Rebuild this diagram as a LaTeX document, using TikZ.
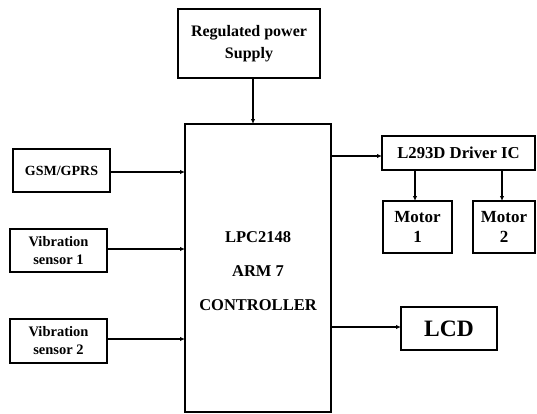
\documentclass[tikz,border=0pt]{standalone}
\usepackage{fontspec}
\setmainfont{Liberation Serif}
\usetikzlibrary{arrows.meta}
\tikzset{
  box/.style={draw, line width=1.8pt, inner sep=0pt, outer sep=0pt, align=center},
  arr/.style={line width=1.8pt, -{Latex[length=5pt,width=4.5pt]}},
  txt/.style={align=center, inner sep=0pt}
}
\newcommand{\fs}[2]{\bfseries\fontsize{#1}{#2}\selectfont}
\begin{document}
\begin{tikzpicture}[x=1pt,y=-1pt]
\useasboundingbox (0,0) rectangle (537,413);
\node[box, minimum width=142pt, minimum height=69pt, font=\fs{16}{22}] (power) at (249,43.5) {Regulated power\\Supply};
\node[box, minimum width=146pt, minimum height=288pt] (ctrl) at (258,268) {};
\node[txt, font=\fs{16.5}{34}] (ctrltext) at (258,271) {LPC2148\\ARM 7\\CONTROLLER};
\node[box, minimum width=97pt, minimum height=43pt, font=\fs{14}{18}] (gsm) at (61.5,170.5) {GSM/GPRS};
\node[box, minimum width=97pt, minimum height=43pt, font=\fs{14.5}{18}] (vib1) at (58.5,250.5) {Vibration\\sensor 1};
\node[box, minimum width=97pt, minimum height=44pt, font=\fs{14.5}{18}] (vib2) at (58.5,341) {Vibration\\sensor 2};
\node[box, minimum width=153pt, minimum height=34pt, font=\fs{16.7}{20}] (drv) at (458.5,153) {L293D Driver IC};
\node[box, minimum width=69pt, minimum height=52pt, font=\fs{17}{20}] (m1) at (417.5,227) {Motor\\1};
\node[box, minimum width=62pt, minimum height=52pt, font=\fs{17}{20}] (m2) at (504,227) {Motor\\2};
\node[box, minimum width=96pt, minimum height=43pt, font=\fs{23.5}{26}] (lcd) at (449,328.5) {LCD};
\draw[arr] ([xshift=4pt]power.south) -- ([xshift=4pt]power.south |- ctrl.north);
\draw[arr] ([yshift=-1.5pt]gsm.east) -- ([yshift=-1.5pt]gsm.east -| ctrl.west);
\draw[arr] ([yshift=1.5pt]vib1.east) -- ([yshift=1.5pt]vib1.east -| ctrl.west);
\draw[arr] ([yshift=2pt]vib2.east) -- ([yshift=2pt]vib2.east -| ctrl.west);
\draw[arr] ([yshift=-3pt]ctrl.east |- drv.west) -- ([yshift=-3pt]drv.west);
\draw[arr] ([xshift=-2.5pt]drv.south -| m1.north) -- ([xshift=-2.5pt]m1.north);
\draw[arr] ([xshift=-2pt]drv.south -| m2.north) -- ([xshift=-2pt]m2.north);
\draw[arr] ([yshift=1.5pt]ctrl.east |- lcd.west) -- ([yshift=1.5pt]lcd.west);
\end{tikzpicture}
\end{document}
